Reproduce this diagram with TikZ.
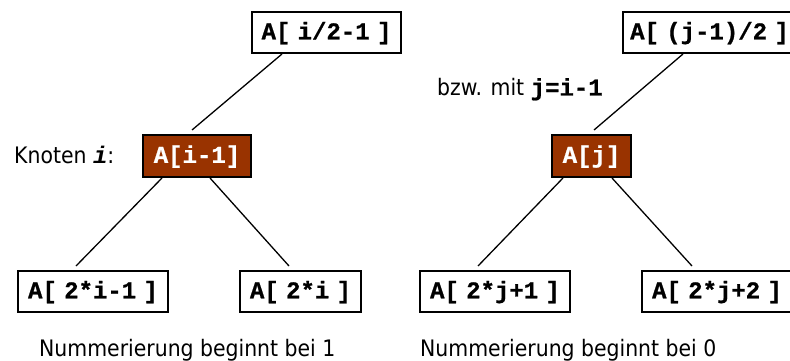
\documentclass[tikz,border=0pt]{standalone}
\usepackage{fontspec}
\setmainfont{DejaVu Sans Condensed}
\newfontfamily\codefont{Liberation Mono}[BoldFeatures={FakeBold=0.8}]
\newcommand\gp{\hspace{7.3pt}}
\definecolor{nodefill}{HTML}{993300}
\tikzset{
  cell/.style={draw=black, line width=2pt, fill=white, inner sep=0pt,
    minimum height=41pt, text height=13.6pt, text depth=0pt,
    font=\codefont\bfseries\fontsize{24pt}{28pt}\selectfont},
  current/.style={cell, fill=nodefill, text=white},
  caption/.style={inner sep=0pt, anchor=base west,
    font=\fontsize{22.7pt}{27pt}\selectfont},
  edge/.style={line width=1.3pt}
}
\begin{document}
\begin{tikzpicture}[x=1pt,y=-1pt]
\clip (0,0) rectangle (790,361);
\fill[white] (0,0) rectangle (790,361);

% numbering starting at 1
\node[cell, minimum width=149pt] (lt) at (326.5,32.5) {A[\gp i/2-1\gp]};
\node[current, minimum width=108pt, minimum height=42pt] (lm) at (197,156) {A[i-1]};
\node[cell, minimum width=150pt] (lbl) at (93,291.5) {A[\gp 2*i-1\gp]};
\node[cell, minimum width=121pt] (lbr) at (300.5,291.5) {A[\gp 2*i\gp]};

\draw[edge] ([xshift=31pt]lt.south west) -- ([xshift=-5pt,yshift=4pt]lm.north);
\draw[edge] ([xshift=20pt]lm.south west) -- ([xshift=59pt,yshift=4pt]lbl.north west);
\draw[edge] ([xshift=-42pt]lm.south east) -- ([xshift=50pt,yshift=4pt]lbr.north west);

\node[caption] (kn) at (14,163) {Knoten {\codefont\bfseries\itshape\fontsize{24pt}{28pt}\selectfont i}:};
\node[caption] (n1) at (39,356) {Nummerierung beginnt bei 1};

% numbering starting at 0
\node[cell, minimum width=173pt] (rt) at (709.5,32.5) {A[\gp (j-1)/2\gp]};
\node[current, minimum width=79pt, minimum height=42pt] (rm) at (591.5,156) {A[j]};
\node[cell, minimum width=150pt] (rbl) at (495,291.5) {A[\gp 2*j+1\gp]};
\node[cell, minimum width=150pt] (rbr) at (717,291.5) {A[\gp 2*j+2\gp]};

\draw[edge] ([xshift=61pt]rt.south west) -- ([xshift=2.5pt,yshift=4pt]rm.north);
\draw[edge] ([xshift=12pt]rm.south west) -- ([xshift=59pt,yshift=4pt]rbl.north west);
\draw[edge] ([xshift=-20pt]rm.south east) -- ([xshift=51pt,yshift=4pt]rbr.north west);

\node[caption] (bzw) at (437,95.5) {bzw. mit {\codefont\bfseries\fontsize{24pt}{28pt}\selectfont j=i-1}};
\node[caption] (n0) at (420,356) {Nummerierung beginnt bei 0};
\end{tikzpicture}
\end{document}
